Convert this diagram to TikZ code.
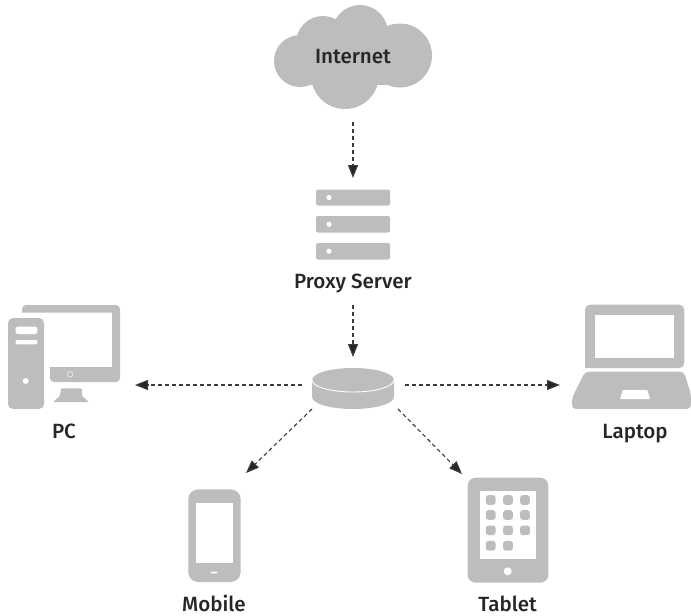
\documentclass[tikz,border=0pt]{standalone}
\usepackage{fontspec}
\setmainfont{Fira Sans Medium}
\usetikzlibrary{arrows.meta}
\definecolor{icon}{HTML}{BDBDBD}
\definecolor{ink}{HTML}{262626}
\tikzset{
  solidicon/.style={fill=icon,draw=none},
  hole/.style={fill=white,draw=none},
  label/.style={text=ink,font=\fontsize{20.6}{22}\selectfont,inner sep=0pt,anchor=base},
  anchorbox/.style={draw=none,fill=none,inner sep=0pt,outer sep=0pt},
  link/.style={draw=ink!90,line width=1.1pt,dash pattern=on 4pt off 3pt,
    -{Stealth[inset=0pt,length=13pt,width=10pt,fill=ink]}},
}
\begin{document}
\begin{tikzpicture}[x=1pt,y=-1pt]
\useasboundingbox (0,0) rectangle (691,616);
% cloud
\fill[icon] (300,61) circle[radius=26];
\fill[icon] (400,55.5) circle[radius=32];
\fill[icon] (360,33) circle[radius=28];
\fill[icon] (323,43) circle[radius=27];
\fill[icon] (345,75) circle[radius=34];
\fill[icon] (300,45) rectangle (400,85);
\node[label] (internet) at (353,63) {Internet};
\node[anchorbox,minimum width=160pt,minimum height=104pt] (cloud) at (353,57) {};
% server
\foreach \i/\t/\b in {1/189.5/205.5,2/216/232.5,3/243/259.5}{
  \fill[solidicon,rounded corners=2pt] (316,\t) rectangle (390,\b);
  \fill[hole] (329,{(\t+\b)/2}) circle[radius=2.6];
}
\node[anchorbox,minimum width=74pt,minimum height=70pt] (server) at (353,224.5) {};
\node[label] (proxy) at (353,288) {Proxy Server};
% disk
\fill[solidicon] (312,380) -- (312,397) arc[start angle=180,end angle=0,x radius=41,y radius=12]
  -- (394,380) arc[start angle=0,end angle=-180,x radius=41,y radius=12] -- cycle;
\draw[white,line width=0.9pt] (312,380) arc[start angle=180,end angle=0,x radius=41,y radius=12];
\node[anchorbox,minimum width=82pt,minimum height=48pt] (disk) at (353,385) {};
% PC
\fill[solidicon,rounded corners=4pt] (50,382) [sharp corners] -- (50,367) -- (112,367) -- (112,312.7) -- (22,312.7)
  [rounded corners=4pt] -- (22,305) -- (120,305) -- (120,382) -- cycle;
\fill[solidicon,rounded corners=5pt] (8,318) rectangle (44,409);
\fill[hole,rounded corners=1.5pt] (15.7,326.7) rectangle (37.3,334);
\fill[hole,rounded corners=1pt] (15.7,340) rectangle (37.3,344.3);
\fill[hole] (25.7,381) circle[radius=3];
\draw[white!92!black,line width=0.7pt] (70,374.3) circle[radius=2.8];
\fill[solidicon,rounded corners=1pt] (61,388.3) -- (81.7,388.3) -- (82,396) -- (89,402) -- (53,402) -- (60,396) -- cycle;
\node[anchorbox,minimum width=112pt,minimum height=48pt] (pc) at (64,385) {};
\node[label] (pclabel) at (64,438) {PC};
% Laptop
\fill[solidicon,rounded corners=5pt] (585,368) [sharp corners] -- (585,368) [rounded corners=5pt] -- (585,304.7) -- (684.3,304.7) -- (684.3,368) [sharp corners] -- cycle;
\fill[hole] (594.7,315) rectangle (674.3,357.7);
\fill[solidicon,rounded corners=4pt] (585,371.7) -- (684,371.7) -- (691,395) -- (691,409) -- (572,409) -- (572,398) -- cycle;
\fill[hole,rounded corners=0.5pt] (622.7,390) -- (647.3,390) -- (650,399) -- (620,399) -- cycle;
\node[anchorbox,minimum width=119pt,minimum height=48pt] (laptop) at (631.5,385) {};
\node[label] (laptoplabel) at (635,438) {Laptop};
% Mobile
\fill[solidicon,rounded corners=10pt] (188.3,489.3) rectangle (240.7,582);
\fill[hole] (195.7,502.7) rectangle (233,563);
\fill[hole,rounded corners=0.5pt] (210.7,571.5) rectangle (217.3,573.3);
\node[anchorbox,minimum width=52.4pt,minimum height=92.7pt] (mobile) at (214.5,535.65) {};
\node[label] (mobilelabel) at (214,611) {Mobile};
% Tablet
\fill[solidicon,rounded corners=8pt] (467.7,477.7) rectangle (548.3,582.7);
\fill[hole] (480,490.7) rectangle (535.7,559.3);
\foreach \y/\xs in {500/{490.7,508,525},515/{490.7,508,525},530.3/{490.7,508,525},545.7/{490.7,508}}{
  \foreach \x in \xs {
    \fill[solidicon,rounded corners=2.5pt] (\x-4.8,\y-4.8) rectangle (\x+4.8,\y+4.8);
  }
}
\fill[hole] (507.7,571.3) circle[radius=4];
\node[anchorbox,minimum width=80.6pt,minimum height=105pt] (tablet) at (508,530.2) {};
\node[label] (tabletlabel) at (507.7,611) {Tablet};
% connectors
\coordinate (mobiletip) at (246,473);
\coordinate (tablettip) at (462,474);
\draw[link,shorten <=13pt,shorten >=11.5pt] (cloud.south -| internet) -- (server.north);
\draw[link,shorten <=12pt,shorten >=4pt] (proxy.south) -- (disk.north);
\draw[link,shorten <=10pt,shorten >=15pt] (disk.west) -- (pc.east);
\draw[link,shorten <=11pt,shorten >=12pt] (disk.east) -- (laptop.west);
\draw[link] (disk.south west) -- (mobiletip);
\draw[link] (disk.south east) ++(4,0) -- (tablettip);
\end{tikzpicture}
\end{document}
